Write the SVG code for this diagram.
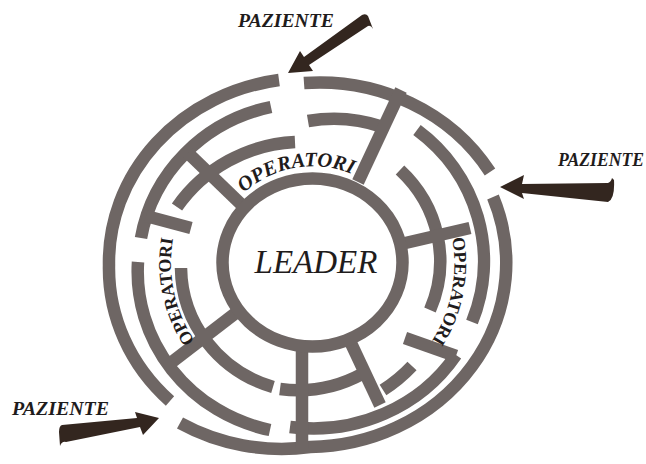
<svg xmlns="http://www.w3.org/2000/svg" width="646" height="464" viewBox="0 0 646 464">
<style>
.w{fill:none;stroke:#6e6664;stroke-width:12.5;stroke-linecap:butt}
.pz{font-family:"Liberation Serif","Times New Roman",serif;font-weight:bold;font-style:italic;fill:#1f1c1c}
.op{font-family:"Liberation Serif","Times New Roman",serif;font-weight:bold;font-size:18px;fill:#1f1c1c}
.arr{fill:#33261f}
</style>
<defs>
<path id="pTop" d="M 244,193 A 100 97 0 0 1 366,181"/>
<path id="pLeft" d="M 195,341 A 139 139 0 0 1 174,234"/>
<path id="pRight" d="M 452,238 A 144 144 0 0 1 427,348"/>
</defs>
<rect width="646" height="464" fill="#ffffff"/>
<g id="maze">
  <g id="ring-outer">
    <path class="w" d="M 279,80 A 199 184 0 0 0 109,265 A 199 184 0 0 0 170,401"/>
    <path class="w" d="M 304,83 A 199 184 0 0 1 490,172"/>
    <path class="w" d="M 493,197 A 199 184 0 0 1 310,447 A 199 184 0 0 1 180,423"/>
  </g>
  <g id="ring-2">
    <path class="w" d="M 271,107 A 168 162 0 0 0 141,238"/>
    <path class="w" d="M 138,262 A 168 162 0 0 0 270,430"/>
    <path class="w" d="M 417,130 A 170 165 0 0 1 472,322"/>
    <path class="w" d="M 456,355 A 170 160 0 0 1 290,427"/>
  </g>
  <g id="ring-m">
    <path class="w" d="M 308,121 A 147 142 0 0 1 383,127"/>
    <path class="w" d="M 295,142 A 153 153 0 0 0 177,207"/>
    <path class="w" d="M 412,366 A 150 150 0 0 1 383,390"/>
  </g>
  <g id="ring-1">
    <path class="w" d="M 400,170 A 130 126 0 0 1 430,310"/>
    <path class="w" d="M 181,268 A 130 126 0 0 0 273,387"/>
    <path class="w" d="M 280,389 A 130 124 0 0 0 362,374"/>
  </g>
  <g id="spokes">
    <path class="w" d="M 401,90 L 358,182"/>
    <path class="w" d="M 188,153 L 246,209"/>
    <path class="w" d="M 401,244 L 470,228"/>
    <path class="w" d="M 172,362 L 237,312"/>
    <path class="w" d="M 302,345 L 302,448"/>
    <path class="w" d="M 349,339 L 380,405"/>
    <path class="w" d="M 405,338 L 456,356"/>
    <path class="w" d="M 146,216 L 191,228"/>
  </g>
</g>
<g id="leader">
  <ellipse class="w" cx="312.5" cy="262.5" rx="90" ry="84"/>
  <text x="316" y="273" text-anchor="middle" font-family="Liberation Serif, Times New Roman, serif" font-style="italic" font-size="33" fill="#1f1c1c">LEADER</text>
</g>
<g id="operatori-top"><text class="op" style="font-style:italic;font-size:20.5px"><textPath href="#pTop">OPERATORI</textPath></text></g>
<g id="operatori-left"><text class="op"><textPath href="#pLeft">OPERATORI</textPath></text></g>
<g id="operatori-right"><text class="op"><textPath href="#pRight">OPERATORI</textPath></text></g>
<g id="paziente-top"><text class="pz" x="238" y="27" font-size="19" textLength="96" lengthAdjust="spacingAndGlyphs">PAZIENTE</text></g>
<g id="paziente-right"><text class="pz" x="558" y="166" font-size="18" textLength="86" lengthAdjust="spacingAndGlyphs">PAZIENTE</text></g>
<g id="paziente-left"><text class="pz" x="12" y="415" font-size="19" textLength="97" lengthAdjust="spacingAndGlyphs">PAZIENTE</text></g>
<g id="connectors">
  <path class="arr" d="M 288,73 L 300,51 L 304,57 L 362,15 Q 366,13 368,16 L 373,29 Q 371,25 368,26 L 309,65 L 313,71 Z"/>
  <path class="arr" d="M 500,187 L 524,175 L 522,184 L 608,183 Q 611,182 612,178 L 614,180 Q 615,199 608,202 L 522,193 L 524,199 Z"/>
  <path class="arr" d="M 159,418 L 135,412 L 137,418 L 62,425 Q 59,426 59,432 L 60,446 Q 62,441 66,442 L 140,427 L 143,435 Z"/>
</g>
</svg>
